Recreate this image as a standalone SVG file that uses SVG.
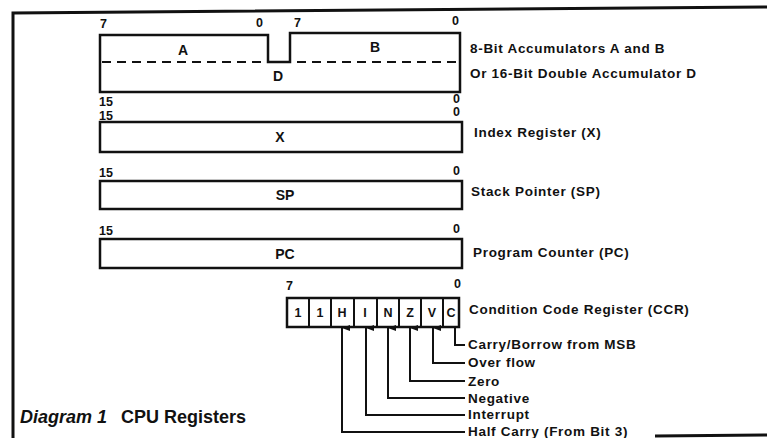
<svg xmlns="http://www.w3.org/2000/svg" width="767" height="438" viewBox="0 0 767 438">
<defs>
<style>
.t{font-family:"Liberation Sans",Arial,sans-serif;font-weight:bold;font-size:13.5px;letter-spacing:0.7px;fill:#111}
.n{font-family:"Liberation Sans",Arial,sans-serif;font-weight:bold;font-size:12.5px;fill:#111}
.g{font-family:"Liberation Sans",Arial,sans-serif;font-weight:bold;font-size:14px;fill:#111}
.r{fill:#fff;stroke:#111;stroke-width:2.5}
.c{fill:none;stroke:#111;stroke-width:2}
.f{fill:none;stroke:#111;stroke-width:3}
</style>
<marker id="ah" viewBox="0 0 6 8" refX="3" refY="0" markerWidth="6" markerHeight="8" markerUnits="userSpaceOnUse" orient="auto-start-reverse">
<path d="M0,8 L3,0 L6,8 Z" fill="#111"/>
</marker>
</defs>
<rect width="767" height="438" fill="#fff"/>
<g id="frame">
<path class="f" d="M13,438 L13,13 L767,7"/>
<path class="f" d="M655,436 L767,435"/>
</g>
<g id="acc">
<path class="r" d="M100,35 L268,35 L268,62 L290,62 L290,33 L460,33 L460,92 L100,92 Z"/>
<line x1="102" y1="62" x2="458" y2="62" stroke="#111" stroke-width="2" stroke-dasharray="9,6"/>
<text class="g" x="183" y="55" text-anchor="middle">A</text>
<text class="g" x="375" y="52" text-anchor="middle">B</text>
<text class="g" x="278" y="81" text-anchor="middle">D</text>
<text class="n" x="100" y="28">7</text>
<text class="n" x="256" y="27">0</text>
<text class="n" x="294" y="27">7</text>
<text class="n" x="452" y="25">0</text>
<text class="n" x="99" y="106">15</text>
<text class="n" x="453" y="103">0</text>
<text class="t" x="470" y="53">8-Bit Accumulators A and B</text>
<text class="t" x="470" y="78">Or 16-Bit Double Accumulator D</text>
</g>
<g id="x">
<rect class="r" x="100" y="122" width="362" height="30"/>
<text class="n" x="99" y="120">15</text>
<text class="n" x="453" y="116">0</text>
<text class="g" x="280" y="142" text-anchor="middle">X</text>
<text class="t" x="474" y="137">Index Register (X)</text>
</g>
<g id="sp">
<rect class="r" x="100" y="181" width="362" height="28"/>
<text class="n" x="99" y="177">15</text>
<text class="n" x="453" y="175">0</text>
<text class="g" x="285" y="200" text-anchor="middle">SP</text>
<text class="t" x="471" y="196">Stack Pointer (SP)</text>
</g>
<g id="pc">
<rect class="r" x="100" y="239" width="362" height="29"/>
<text class="n" x="99" y="235">15</text>
<text class="n" x="453" y="233">0</text>
<text class="g" x="285" y="259" text-anchor="middle">PC</text>
<text class="t" x="473" y="257">Program Counter (PC)</text>
</g>
<g id="ccr">
<rect class="r" x="287" y="298" width="172" height="29"/>
<g stroke="#111" stroke-width="2">
<line x1="309" y1="298" x2="309" y2="327"/>
<line x1="331" y1="298" x2="331" y2="327"/>
<line x1="354" y1="298" x2="354" y2="327"/>
<line x1="377" y1="298" x2="377" y2="327"/>
<line x1="399" y1="298" x2="399" y2="327"/>
<line x1="421" y1="298" x2="421" y2="327"/>
<line x1="443" y1="298" x2="443" y2="327"/>
</g>
<g class="n" text-anchor="middle" font-size="11.5">
<text x="298" y="317">1</text>
<text x="320" y="317">1</text>
<text x="342" y="317">H</text>
<text x="365" y="317">I</text>
<text x="388" y="317">N</text>
<text x="410" y="317">Z</text>
<text x="432" y="317">V</text>
<text x="451" y="317">C</text>
</g>
<text class="n" x="286" y="290">7</text>
<text class="n" x="454" y="288">0</text>
<text class="t" x="469" y="314">Condition Code Register (CCR)</text>
</g>
<g id="connectors">
<path class="c" d="M455,328 L455,345 L465,345"/>
<path class="c" d="M433,328 L433,363 L465,363" marker-start="url(#ah)"/>
<path class="c" d="M410,328 L410,381 L465,381" marker-start="url(#ah)"/>
<path class="c" d="M388,328 L388,398 L465,398" marker-start="url(#ah)"/>
<path class="c" d="M366,328 L366,415 L465,415" marker-start="url(#ah)"/>
<path class="c" d="M342,328 L342,432 L465,432" marker-start="url(#ah)"/>
</g>
<g id="flags">
<text class="t" x="468" y="349">Carry/Borrow from MSB</text>
<text class="t" x="468" y="367">Over flow</text>
<text class="t" x="468" y="386">Zero</text>
<text class="t" x="468" y="403">Negative</text>
<text class="t" x="468" y="419">Interrupt</text>
<text class="t" x="468" y="436">Half Carry (From Bit 3)</text>
</g>
<g id="caption">
<text x="20" y="423" font-family="'Liberation Sans',Arial,sans-serif" font-weight="bold" font-size="18" fill="#111"><tspan font-style="italic">Diagram 1</tspan><tspan dx="14">CPU Registers</tspan></text>
</g>
</svg>
